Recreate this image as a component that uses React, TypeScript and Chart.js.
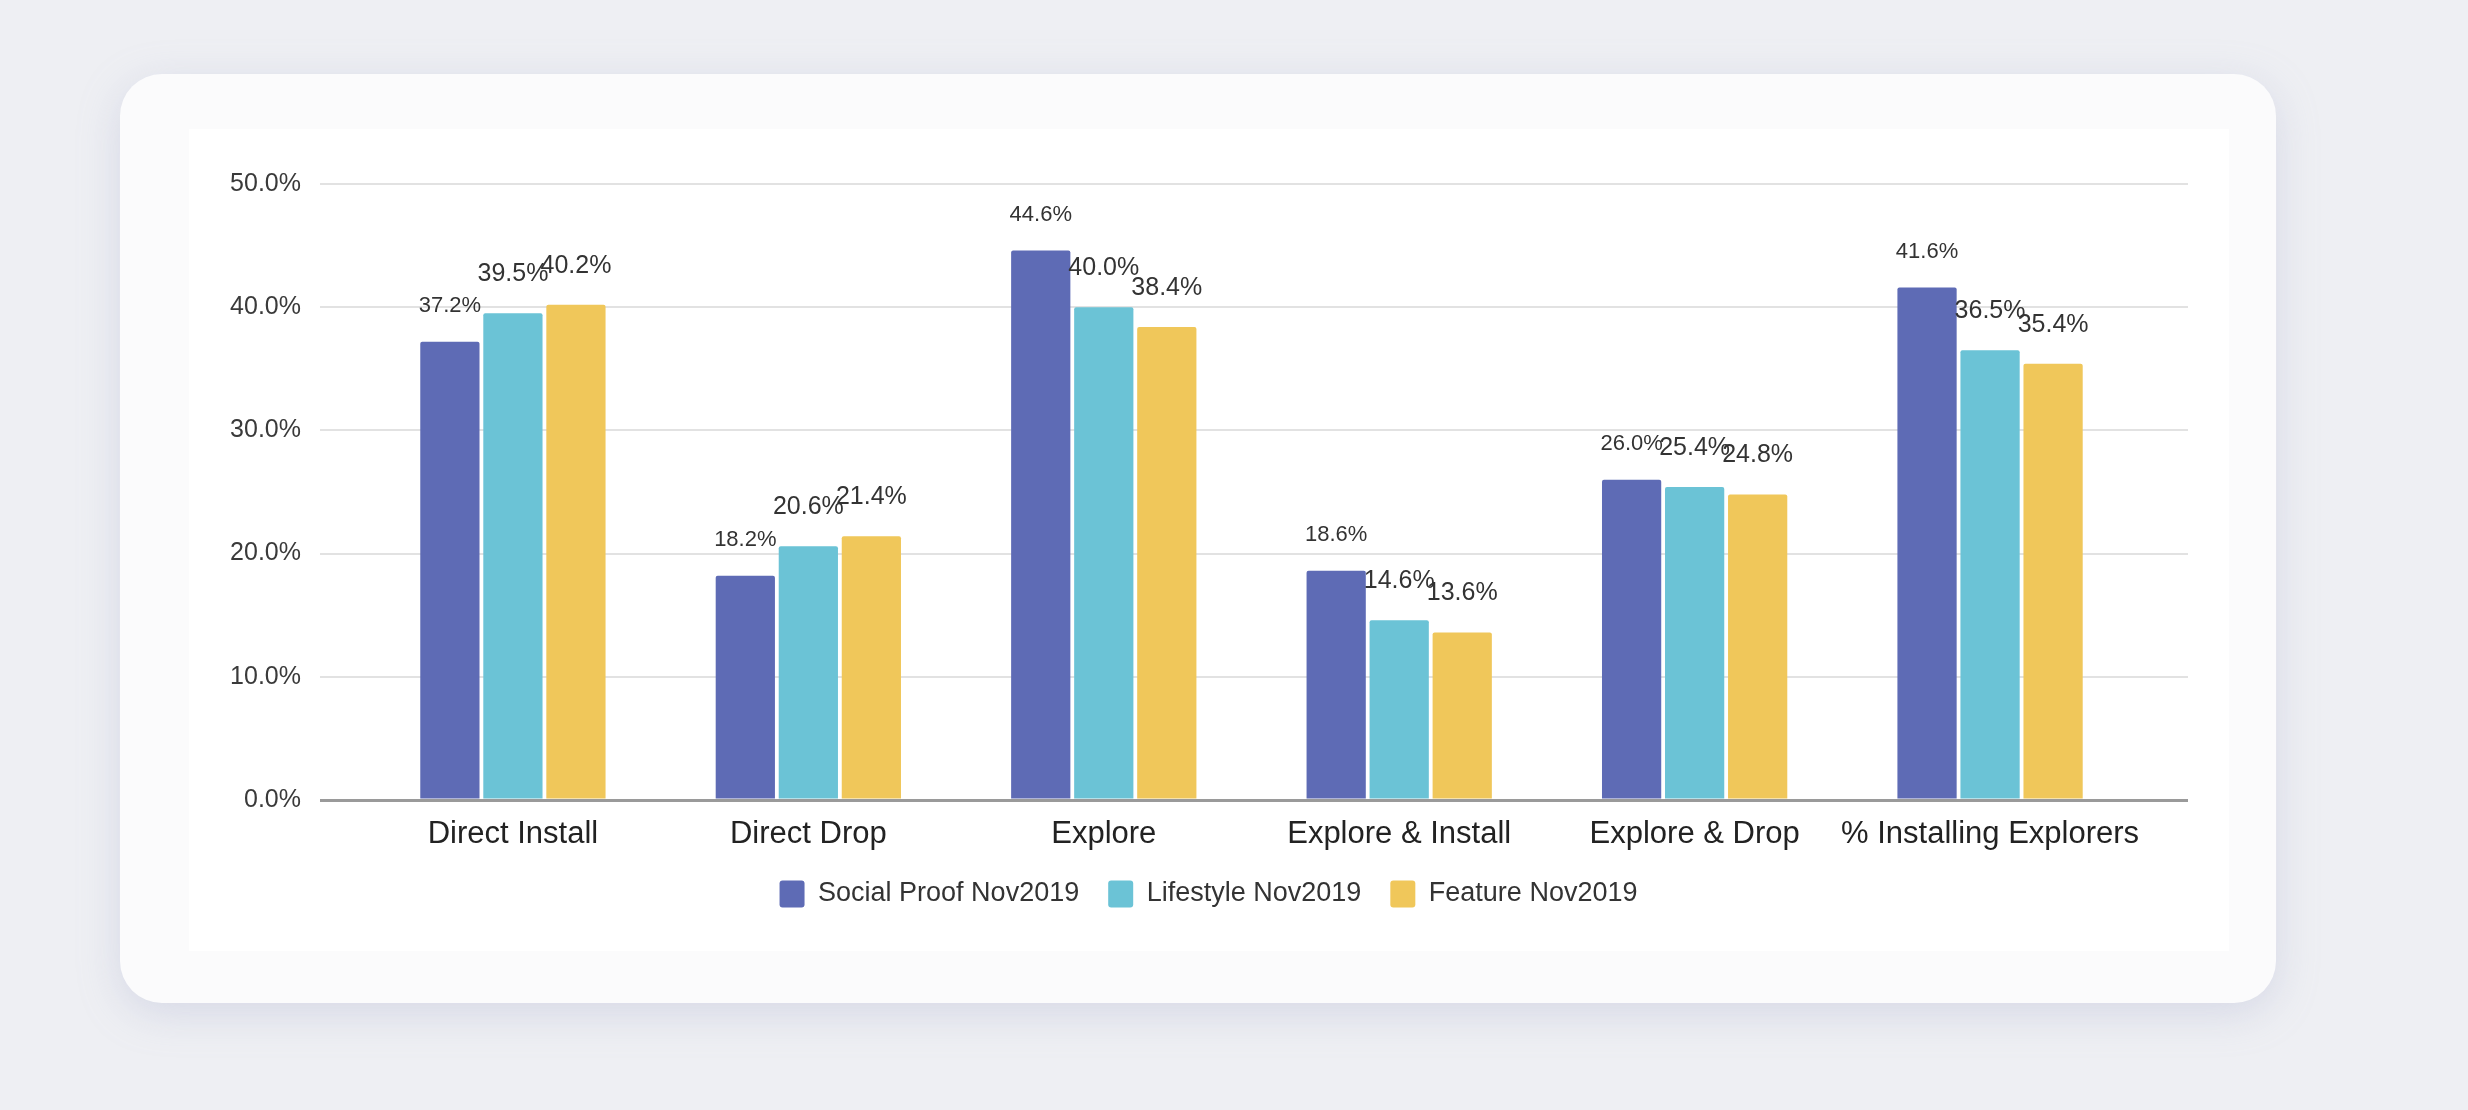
import React, { useEffect, useRef } from "react";
import { Chart, registerables } from "chart.js";

Chart.register(...registerables);

const CATEGORIES = [
  "Direct Install",
  "Direct Drop",
  "Explore",
  "Explore & Install",
  "Explore & Drop",
  "% Installing Explorers",
];
const SERIES_NAMES = ["Social Proof Nov2019", "Lifestyle Nov2019", "Feature Nov2019"];
const SOCIAL_PROOF = [37.2, 18.2, 44.6, 18.6, 26.0, 41.6];
const LIFESTYLE = [39.5, 20.6, 40.0, 14.6, 25.4, 36.5];
const FEATURE = [40.2, 21.4, 38.4, 13.6, 24.8, 35.4];
const SERIES_VALUES = [SOCIAL_PROOF, LIFESTYLE, FEATURE];
const COLORS = ["#5e6bb5", "#6bc3d6", "#f0c75a"];
const Y_MIN = 0;
const Y_MAX = 50;
const Y_STEP = 10;

const FONT = '"Liberation Sans", Arial, Helvetica, sans-serif';

const valueLabels = {
  id: "valueLabels",
  afterDatasetsDraw(chart: any) {
    const ctx = chart.ctx;
    chart.data.datasets.forEach((ds: any, di: number) => {
      const meta = chart.getDatasetMeta(di);
      ctx.save();
      ctx.font = `${di === 0 ? 22 : 25}px ${FONT}`;
      ctx.fillStyle = "#333333";
      ctx.textAlign = "center";
      ctx.textBaseline = "middle";
      meta.data.forEach((bar: any, i: number) => {
        const v = ds.data[i].y as number;
        ctx.fillText(v.toFixed(1) + "%", bar.x, bar.y - (di === 0 ? 36 : 39));
      });
      ctx.restore();
    });
  },
};

function BarChart() {
  const ref = useRef<HTMLCanvasElement | null>(null);
  useEffect(() => {
    if (!ref.current) return;
    const chart = new Chart(ref.current, {
      type: "bar",
      data: {
        datasets: SERIES_NAMES.map((name, si) => ({
          label: name,
          data: SERIES_VALUES[si].map((v, i) => ({ x: i, y: v })),
          backgroundColor: COLORS[si],
          borderWidth: 0,
          borderRadius: 2,
          categoryPercentage: 0.64,
          barPercentage: 0.94,
        })),
      },
      options: {
        responsive: false,
        animation: false,
        devicePixelRatio: 1,
        layout: { padding: { top: 55, right: 41, bottom: 33.5, left: 40 } },
        plugins: {
          tooltip: { enabled: false },
          legend: {
            position: "bottom",
            labels: {
              boxWidth: 25,
              boxHeight: 27,
              padding: 29,
              color: "#333333",
              useBorderRadius: true,
              borderRadius: 3,
              font: { family: FONT, size: 27 },
            },
          },
        },
        scales: {
          x: {
            type: "linear",
            min: -0.653,
            max: 5.67,
            offset: false,
            grid: { display: false, drawTicks: false },
            border: { display: false },
            ticks: {
              stepSize: 1,
              includeBounds: false,
              autoSkip: false,
              maxRotation: 0,
              minRotation: 0,
              padding: 15.5,
              color: "#222222",
              font: { family: FONT, size: 31 },
              callback: (value: any) =>
                Number.isInteger(value) && CATEGORIES[value] !== undefined ? CATEGORIES[value] : "",
            },
            afterFit: (scale: any) => {
              scale.height = 51.5;
            },
          },
          y: {
            type: "linear",
            min: Y_MIN,
            max: Y_MAX,
            grid: {
              drawTicks: false,
              color: (c: any) => (c.tick && c.tick.value === 0 ? "#9a9a9a" : "#e2e2e2"),
              lineWidth: (c: any) => (c.tick && c.tick.value === 0 ? 3 : 2),
            },
            border: { display: false },
            ticks: {
              stepSize: Y_STEP,
              padding: 19,
              color: "#3a3a3a",
              font: { family: FONT, size: 25 },
              callback: (value: any) => Number(value).toFixed(1) + "%",
            },
            afterFit: (scale: any) => {
              scale.width = 91;
            },
          },
        },
      } as any,
      plugins: [valueLabels],
    });
    return () => chart.destroy();
  }, []);
  return (
    <canvas
      ref={ref}
      width={2040}
      height={822}
      style={{ position: "absolute", left: 189, top: 129, width: 2040, height: 822, background: "#ffffff" }}
    />
  );
}

export default function App() {
  return (
    <div style={{ position: "fixed", left: 0, top: 0, width: 2468, height: 1110, background: "#eeeff3", overflow: "hidden" }}>
      <div
        style={{
          position: "absolute",
          left: 120,
          top: 74,
          width: 2156,
          height: 929,
          borderRadius: 42,
          background: "#fbfbfc",
          boxShadow: "0 10px 40px rgba(170,175,205,0.35)",
        }}
      />
      <BarChart />
    </div>
  );
}
